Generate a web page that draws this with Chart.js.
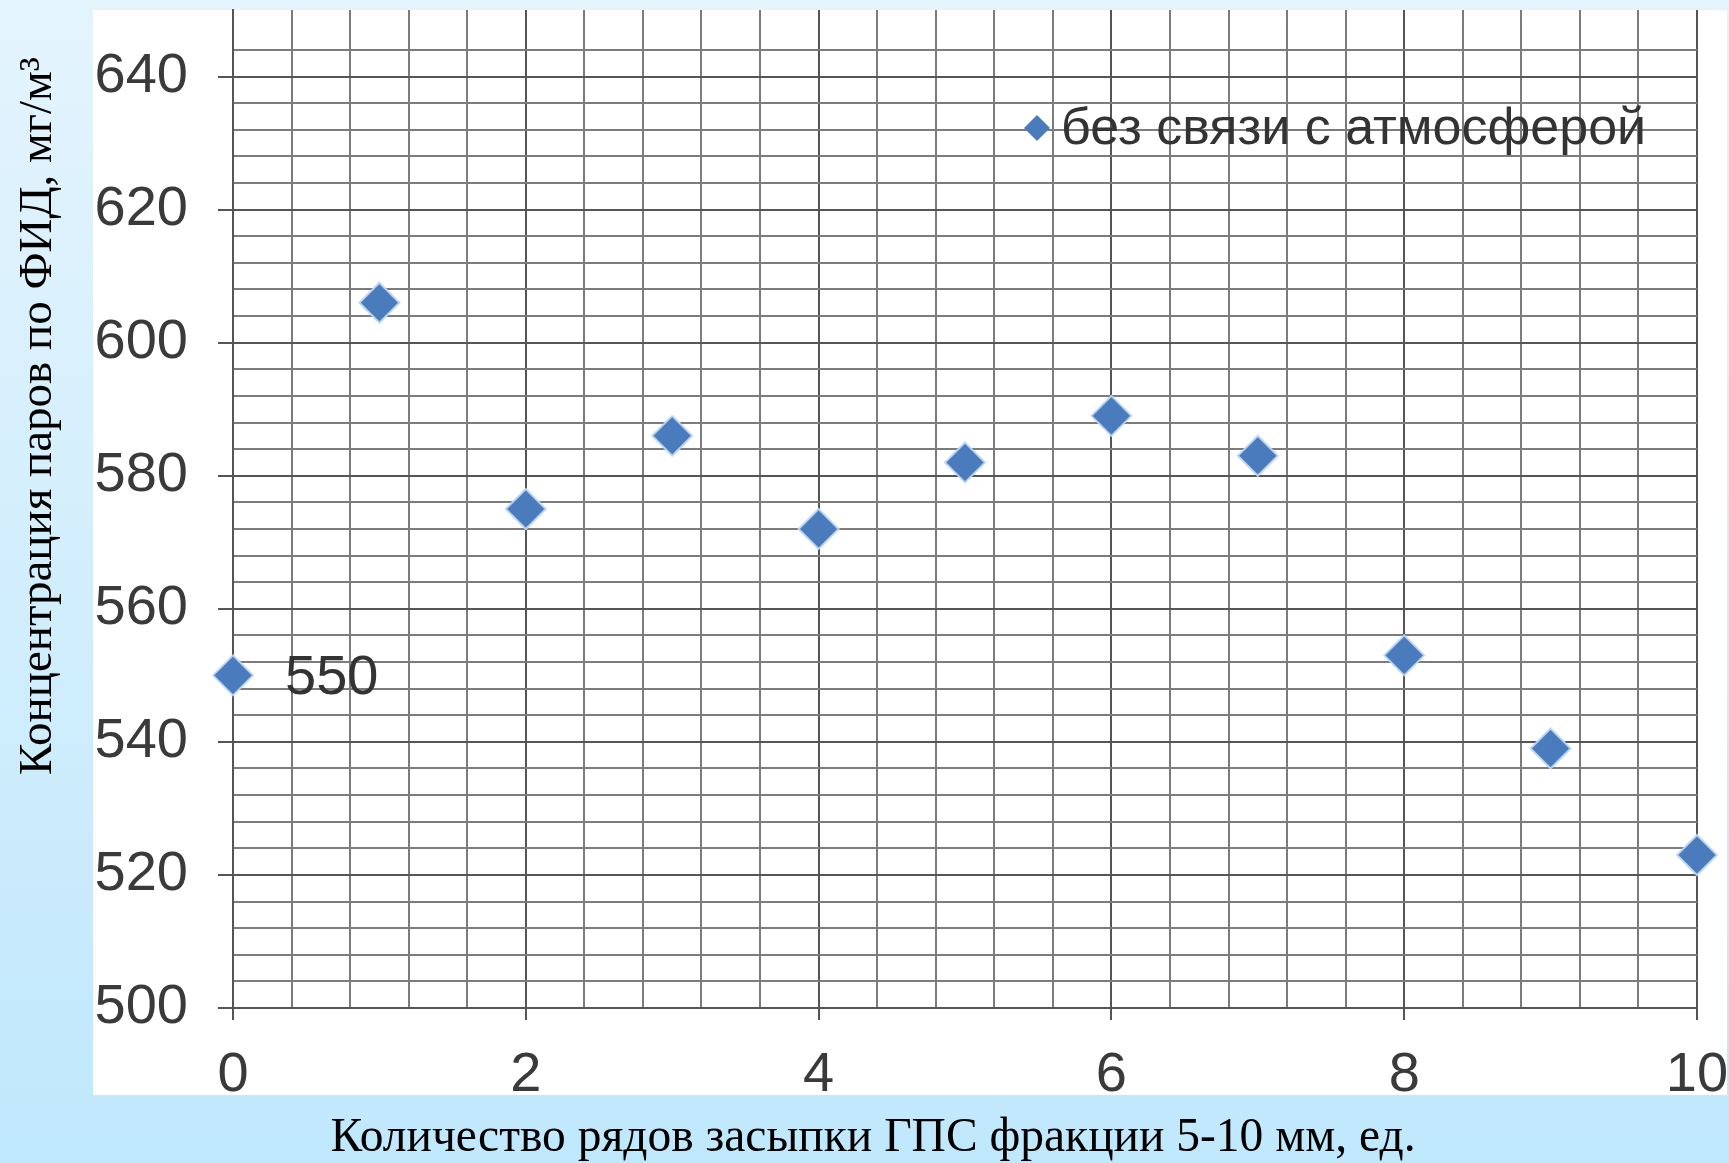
<!DOCTYPE html>
<html lang="ru">
<head>
<meta charset="UTF-8" />
<title>Концентрация паров по ФИД</title>
<script src="https://cdn.jsdelivr.net/npm/chart.js"></script>
<style>
  * { box-sizing: border-box; margin: 0; padding: 0; }
  html, body { width: 1729px; height: 1163px; overflow: hidden; }
  body { background: linear-gradient(#e4f4fd, #c0e8fc); }
  .wrap { position: relative; width: 1729px; height: 1163px; }
</style>
</head>
<body>
<div class="wrap"><canvas id="chart"></canvas></div>
<script>
  // data
  const rows = [0, 1, 2, 3, 4, 5, 6, 7, 8, 9, 10];
  const concentration = [550, 606, 575, 586, 572, 582, 589, 583, 553, 539, 523];
  const seriesName = "без связи с атмосферой";
  const xLabels = [0, 2, 4, 6, 8, 10];
  const yLabels = [500, 520, 540, 560, 580, 600, 620, 640];
  const labelledPoints = [0]; // only the first point carries its value
  const xTitle = "Количество рядов засыпки ГПС фракции 5-10 мм, ед.";
  const yTitle = "Концентрация паров по ФИД, мг/м³";

  const sans = "'Liberation Sans Narrow', 'Arial Narrow', 'Liberation Sans', sans-serif";
  const serif = "'Liberation Serif', 'Times New Roman', serif";
  const blue = "#4a7cbd";

  const near = (v, list) => list.some((t) => Math.abs(t - v) < 1e-6);

  // white panel, axis titles, legend and the one value label
  const decor = {
    id: "decor",
    beforeDraw(chart) {
      const { ctx, chartArea: a } = chart;
      ctx.save();
      ctx.fillStyle = "#fff";
      ctx.fillRect(a.left - 140, a.top, a.right - a.left + 170, a.bottom - a.top + 87);
      ctx.restore();
    },
    afterDatasetsDraw(chart) {
      const { ctx } = chart;
      const meta = chart.getDatasetMeta(0);
      ctx.save();
      ctx.fillStyle = "#333";
      ctx.font = "56px " + sans;
      ctx.textBaseline = "middle";
      labelledPoints.forEach((i) => {
        const p = meta.data[i];
        ctx.fillText(String(concentration[i]), p.x + 52, p.y + 3);
      });

      // legend
      const lx = 1037, ly = 128, r = 13;
      ctx.fillStyle = blue;
      ctx.beginPath();
      ctx.moveTo(lx, ly - r);
      ctx.lineTo(lx + r, ly);
      ctx.lineTo(lx, ly + r);
      ctx.lineTo(lx - r, ly);
      ctx.closePath();
      ctx.fill();
      ctx.fillStyle = "#333";
      ctx.font = "52px " + sans;
      ctx.fillText(seriesName, 1061, ly + 2);

      // axis titles
      ctx.fillStyle = "#000";
      ctx.font = "47.5px " + serif;
      ctx.textAlign = "center";
      ctx.fillText(xTitle, 873, 1139);
      ctx.font = "47px " + serif;
      ctx.translate(39, 416);
      ctx.rotate(-Math.PI / 2);
      ctx.fillText(yTitle, 0, 0);
      ctx.restore();
    },
  };

  new Chart(document.getElementById("chart"), {
    type: "scatter",
    data: {
      datasets: [
        {
          label: seriesName,
          data: rows.map((x, i) => ({ x, y: concentration[i] })),
          pointStyle: "rectRot",
          pointRadius: 20,
          pointHoverRadius: 20,
          backgroundColor: blue,
          borderColor: "rgba(190,215,245,0.9)",
          borderWidth: 2,
          clip: false,
        },
      ],
    },
    options: {
      responsive: true,
      maintainAspectRatio: false,
      animation: false,
      events: [],
      layout: { autoPadding: false, padding: { left: 0, right: 32, top: 10, bottom: 0 } },
      plugins: { legend: { display: false }, tooltip: { enabled: false } },
      scales: {
        x: {
          type: "linear",
          min: 0,
          max: 10,
          afterFit: (s) => {
            s.height = 155;
            s.paddingLeft = 0;
            s.paddingRight = 0;
          },
          border: { color: "#555", width: 2 },
          grid: {
            color: (c) => (near(c.tick.value, xLabels) ? "#555" : "#7c7c7c"),
            lineWidth: 2,
            tickLength: 12,
            tickColor: (c) => (near(c.tick.value, xLabels) ? "#555" : "rgba(0,0,0,0)"),
          },
          ticks: {
            stepSize: 0.4,
            autoSkip: false,
            maxRotation: 0,
            padding: 22,
            color: "#3a3a3a",
            font: { family: sans, size: 56 },
            callback: (v) => {
              const hit = xLabels.find((t) => Math.abs(t - v) < 1e-6);
              return hit === undefined ? "" : String(hit);
            },
          },
        },
        y: {
          min: 500,
          max: 650,
          afterFit: (s) => {
            s.width = 233;
            s.paddingTop = 0;
            s.paddingBottom = 0;
          },
          border: { color: "#555", width: 2 },
          grid: {
            color: (c) =>
              c.tick.value >= 650 ? "rgba(0,0,0,0)" : near(c.tick.value, yLabels) ? "#555" : "#7c7c7c",
            lineWidth: 2,
            tickLength: 15,
            tickColor: (c) => (near(c.tick.value, yLabels) ? "#555" : "rgba(0,0,0,0)"),
          },
          ticks: {
            stepSize: 4,
            autoSkip: false,
            padding: 30,
            color: "#3a3a3a",
            font: { family: sans, size: 56 },
            callback: (v) => (near(v, yLabels) ? String(v) : ""),
          },
        },
      },
    },
    plugins: [decor],
  });
</script>
</body>
</html>
